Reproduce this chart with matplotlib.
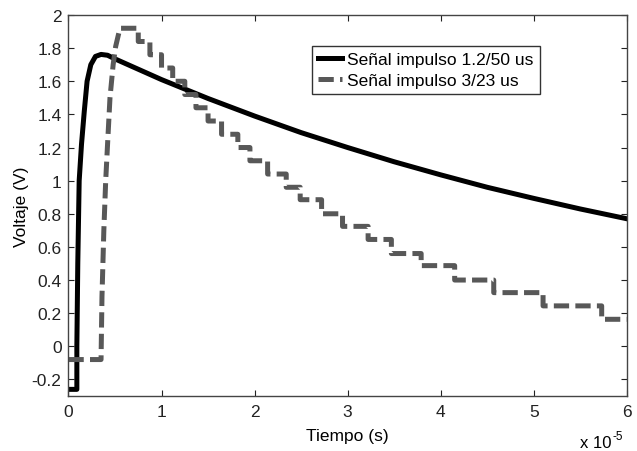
import numpy as np
import matplotlib
matplotlib.use("Agg")
import matplotlib.pyplot as plt
from matplotlib.ticker import FuncFormatter

# Font simile ad Arial (MATLAB)
plt.rcParams['font.family'] = ['Liberation Sans', 'DejaVu Sans']
plt.rcParams['lines.scale_dashes'] = False

FILENAME = "out.png"

# Tempo in unità di 1e-5 s
# Segnale 1.2/50 us (linea continua)
t_impulso_1 = [0, 0.09, 0.09, 0.10, 0.115, 0.14, 0.17, 0.20, 0.24, 0.29, 0.35, 0.42,
               0.5, 1.0, 1.5, 2.0, 2.5, 3.0, 3.5, 4.0, 4.5, 5.0, 5.5, 6.0]
v_impulso_1 = [-0.26, -0.26, 0.0, 0.5, 1.0, 1.22, 1.42, 1.6, 1.7, 1.75, 1.762, 1.757,
               1.735, 1.61, 1.496, 1.39, 1.29, 1.2, 1.114, 1.035, 0.96, 0.893, 0.829, 0.77]

# Segnale 3/23 us (tratteggiato, a gradini)
t_salita_2 = [0, 0.35, 0.36, 0.38, 0.40, 0.42, 0.446, 0.48, 0.507, 0.553]
v_salita_2 = [-0.08, -0.08, 0.3, 0.7, 1.0, 1.22, 1.5, 1.7, 1.81, 1.92]
t_gradini_2 = [0.75, 0.875, 1.0, 1.12, 1.25, 1.37, 1.5, 1.645, 1.82, 1.95, 2.14,
               2.34, 2.49, 2.72, 2.945, 3.22, 3.47, 3.79, 4.15, 4.57, 5.10, 5.73]
v_gradini_2 = [1.84, 1.76, 1.68, 1.60, 1.52, 1.44, 1.36, 1.28, 1.20, 1.12, 1.04,
               0.96, 0.885, 0.80, 0.724, 0.645, 0.56, 0.487, 0.40, 0.324, 0.244, 0.163]
t_fine = 6.0

x_ticks = [0, 1, 2, 3, 4, 5, 6]
y_ticks = [-0.2, 0, 0.2, 0.4, 0.6, 0.8, 1, 1.2, 1.4, 1.6, 1.8, 2]


def costruisci_gradini(t_salita, v_salita, t_gradini, v_gradini, t_end):
    """Unisce la salita con la discesa a gradini (sample & hold)."""
    xs = list(t_salita)
    ys = list(v_salita)
    livello = v_salita[-1]
    for t, v in zip(t_gradini, v_gradini):
        xs += [t, t]
        ys += [livello, v]
        livello = v
    xs.append(t_end)
    ys.append(livello)
    return np.array(xs), np.array(ys)


def main():
    fig = plt.figure(figsize=(6.37, 4.52), dpi=100)
    ax = fig.add_axes([0.1075, 0.1217, 0.8765, 0.8429])

    x1 = np.array(t_impulso_1) * 1e-5
    y1 = np.array(v_impulso_1)
    x2, y2 = costruisci_gradini(t_salita_2, v_salita_2, t_gradini_2, v_gradini_2, t_fine)
    x2 = x2 * 1e-5

    ax.plot(x1, y1, color="black", linewidth=3.6, label="Señal impulso 1.2/50 us")
    ax.plot(x2, y2, color="#585858", linewidth=3.6, linestyle=(0, (11, 4.5)),
            label="Señal impulso 3/23 us")

    ax.set_xlim(0, 6e-5)
    ax.set_ylim(-0.3, 2)
    ax.set_xticks([v * 1e-5 for v in x_ticks])
    ax.xaxis.set_major_formatter(FuncFormatter(lambda v, p: f"{v / 1e-5:g}"))
    ax.set_yticks(y_ticks)
    ax.yaxis.set_major_formatter(FuncFormatter(lambda v, p: f"{v:g}"))

    ax.tick_params(direction='in', length=4, width=0.8, top=True, right=True,
                   labelsize=12.5, colors="#222222")
    ax.tick_params(axis='x', pad=6)
    ax.tick_params(axis='y', pad=5)
    for sp in ax.spines.values():
        sp.set_color("#444444")
        sp.set_linewidth(1.0)

    ax.set_xlabel("Tiempo (s)", fontsize=12.5, labelpad=6)
    ax.set_ylabel("Voltaje (V)", fontsize=12.5, labelpad=2)

    # Moltiplicatore asse X stile MATLAB
    fig.text(0.911, 0.008, "x 10", fontsize=12, ha='left', va='baseline')
    fig.text(0.962, 0.026, "-5", fontsize=8.5, ha='left', va='baseline')

    leg = ax.legend(loc='upper left', bbox_to_anchor=(0.4355, 0.919), borderaxespad=0,
                    fontsize=12.5, handlelength=1.4, handletextpad=0.3,
                    labelspacing=0.35, borderpad=0.35, fancybox=False, framealpha=1)
    leg.get_frame().set_edgecolor("#333333")
    leg.get_frame().set_linewidth(1.0)

    fig.savefig(FILENAME, dpi=100)


if __name__ == "__main__":
    main()
